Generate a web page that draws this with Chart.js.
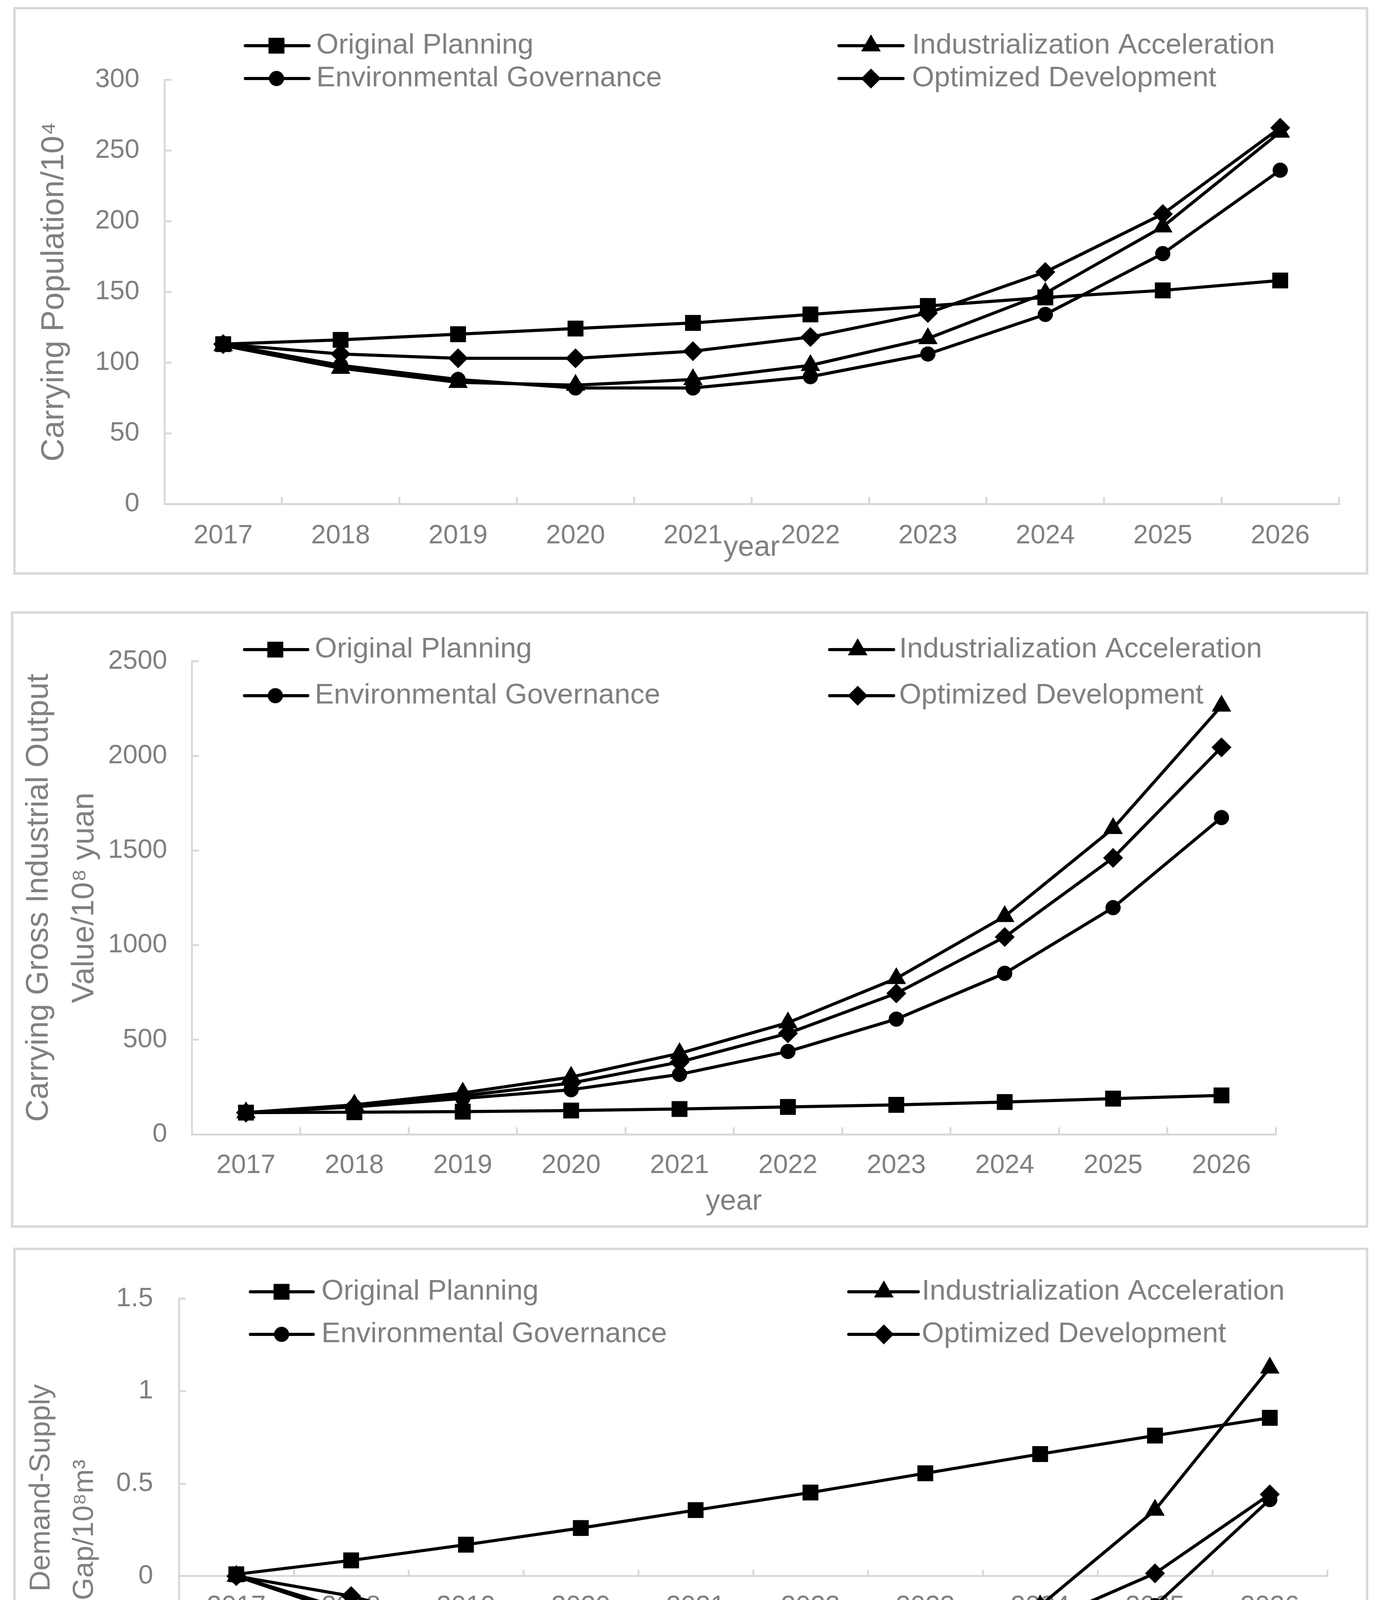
<!DOCTYPE html>
<html>
<head>
<meta charset="utf-8">
<script src="https://cdn.jsdelivr.net/npm/chart.js@4.4.1/dist/chart.umd.min.js"></script>
<style>
  html, body { margin: 0; padding: 0; background: #fff; }
  body { width: 3528px; height: 4666px; position: relative; overflow: hidden; }
  .panel { position: absolute; box-sizing: border-box; border: 6px solid #d9d9d9; background: #fff; }
  canvas { position: absolute; }
</style>
</head>
<body>
<div class="panel" style="left:34px;top:18px;width:3469px;height:1453px"></div>
<div class="panel" style="left:28px;top:1565px;width:3475px;height:1578px"></div>
<div class="panel" style="left:34px;top:3194px;width:3469px;height:1445px"></div>
<canvas id="popChart" width="3457" height="1441" style="left:40px;top:24px"></canvas>
<canvas id="gdpChart" width="3463" height="1566" style="left:34px;top:1571px"></canvas>
<canvas id="waterChart" width="3457" height="1433" style="left:40px;top:3200px"></canvas>
<script>
// shared categories and series names
const years = ['2017', '2018', '2019', '2020', '2021', '2022', '2023', '2024', '2025', '2026'];
const seriesNames = ['Original Planning', 'Industrialization Acceleration', 'Environmental Governance', 'Optimized Development'];

// carrying population (10^4)
const popOriginal = [113, 116, 120, 124, 128, 134, 140, 146, 151, 158];
const popIndustrial = [112, 96, 86, 84, 88, 98, 117, 149, 196, 263];
const popEnvironment = [113, 98, 88, 82, 82, 90, 106, 134, 177, 236];
const popOptimized = [113, 106, 103, 103, 108, 118, 135, 164, 205, 266];
const popTicks = { min: 0, max: 300, step: 50 };

// carrying gross industrial output value (10^8 yuan)
const gdpOriginal = [115, 117, 120, 126, 134, 145, 156, 171, 189, 206];
const gdpIndustrial = [115, 156, 219, 303, 428, 590, 824, 1152, 1617, 2264];
const gdpEnvironment = [115, 145, 190, 236, 317, 438, 609, 851, 1198, 1674];
const gdpOptimized = [115, 150, 204, 271, 382, 534, 745, 1043, 1461, 2045];
const gdpTicks = { min: 0, max: 2500, step: 500 };

// water demand-supply gap (10^8 m3)
const waterOriginal = [0.01, 0.085, 0.17, 0.26, 0.357, 0.452, 0.556, 0.66, 0.76, 0.856];
const waterIndustrial = [0, -0.19, -0.48, -0.64, -0.70, -0.66, -0.49, -0.16, 0.357, 1.126];
const waterEnvironment = [0, -0.21, -0.516, -0.72, -0.83, -0.85, -0.755, -0.535, -0.16, 0.414];
const waterOptimized = [0, -0.108, -0.28, -0.397, -0.456, -0.469, -0.40, -0.256, 0.015, 0.442];
const waterTicks = { min: -1, max: 1.5, step: 0.5 };

const GRAY = '#808080';
const AXIS = '#d9d9d9';
const FONT = '"Liberation Sans", Arial, sans-serif';

const markers = [
  { pointStyle: 'rect', pointRadius: 28 },
  { pointStyle: 'triangle', pointRadius: 28 },
  { pointStyle: 'circle', pointRadius: 19 },
  { pointStyle: 'rectRot', pointRadius: 25 }
];

function buildDatasets(seriesList) {
  return seriesList.map((values, i) => ({
    label: seriesNames[i],
    data: values,
    borderColor: '#000',
    backgroundColor: '#000',
    borderWidth: 8,
    borderJoinStyle: 'round',
    borderCapStyle: 'round',
    pointStyle: markers[i].pointStyle,
    pointRadius: markers[i].pointRadius,
    pointBackgroundColor: '#000',
    pointBorderColor: '#000',
    pointBorderWidth: 1,
    tension: 0,
    clip: false
  }));
}

// legend drawn at the spots Excel put it, over the plot area
const fixedLegend = {
  id: 'fixedLegend',
  afterDraw(chart, args, opts) {
    const ctx = chart.ctx;
    chart.data.datasets.forEach((ds, i) => {
      const y = opts.rows[Math.floor(i / 2)];
      const c = opts.cols[i % 2];
      ctx.save();
      ctx.strokeStyle = '#000';
      ctx.fillStyle = '#000';
      ctx.lineWidth = ds.borderWidth;
      ctx.lineCap = 'round';
      ctx.beginPath();
      ctx.moveTo(c.x1, y);
      ctx.lineTo(c.x2, y);
      ctx.stroke();
      ctx.lineWidth = 1;
      Chart.helpers.drawPoint(ctx, { pointStyle: ds.pointStyle, radius: ds.pointRadius, borderWidth: 1, rotation: 0 }, c.mx, y);
      ctx.font = `73px ${FONT}`;
      ctx.fillStyle = GRAY;
      ctx.textBaseline = 'middle';
      ctx.textAlign = 'left';
      ctx.fillText(ds.label, c.tx, y);
      ctx.restore();
    });
  }
};

function yAxis(ticks, width, title, titleSize, titleLineHeight, titlePad, labelPad) {
  return {
    min: ticks.min,
    max: ticks.max,
    afterFit(scale) { scale.width = width; },
    border: { color: AXIS, width: 5 },
    grid: { drawOnChartArea: false, color: AXIS, lineWidth: 5, tickLength: -18 },
    ticks: {
      stepSize: ticks.step,
      color: GRAY,
      padding: labelPad,
      font: { family: FONT, size: 68 },
      callback(value) { return String(value); }
    },
    title: {
      display: true,
      text: title,
      color: GRAY,
      padding: { top: titlePad, bottom: 0 },
      font: { family: FONT, size: titleSize, lineHeight: titleLineHeight }
    }
  };
}

function xTicks(labelPad) {
  return { color: GRAY, padding: labelPad, maxRotation: 0, autoSkip: false, font: { family: FONT, size: 68, lineHeight: 1.2 } };
}

function xTitle(pad) {
  return { display: true, text: 'year', color: GRAY, padding: { top: 0, bottom: pad }, font: { family: FONT, size: 74, lineHeight: 1.2 } };
}

function makeChart(id, datasets, opts) {
  return new Chart(document.getElementById(id).getContext('2d'), {
    type: 'line',
    data: { labels: years, datasets },
    options: {
      responsive: false,
      animation: false,
      devicePixelRatio: 1,
      layout: { padding: opts.padding },
      plugins: {
        legend: { display: false },
        tooltip: { enabled: false },
        fixedLegend: opts.legend
      },
      scales: opts.scales
    },
    plugins: [fixedLegend]
  });
}

makeChart('popChart', buildDatasets([popOriginal, popIndustrial, popEnvironment, popOptimized]), {
  padding: { top: 180, right: 69, bottom: 0, left: 0 },
  legend: {
    rows: [93, 177],
    cols: [{ x1: 588, x2: 751, mx: 668, tx: 770 }, { x1: 2108, x2: 2272, mx: 2190, tx: 2295 }]
  },
  scales: {
    x: {
      offset: true,
      afterFit(scale) { scale.height = 175; },
      border: { color: AXIS, width: 5 },
      grid: { offset: true, drawOnChartArea: false, color: AXIS, lineWidth: 5, tickLength: -18 },
      ticks: xTicks(59),
      title: xTitle(18)
    },
    y: yAxis(popTicks, 381, 'Carrying Population/10⁴', 82, 1.2, 50, 82)
  }
});

makeChart('gdpChart', buildDatasets([gdpOriginal, gdpIndustrial, gdpEnvironment, gdpOptimized]), {
  padding: { top: 95, right: 231, bottom: 0, left: 0 },
  legend: {
    rows: [92, 210],
    cols: [{ x1: 592, x2: 754, mx: 671, tx: 772 }, { x1: 2090, x2: 2254, mx: 2162, tx: 2268 }]
  },
  scales: {
    x: {
      offset: true,
      afterFit(scale) { scale.height = 233; },
      border: { color: AXIS, width: 5 },
      grid: { offset: true, drawOnChartArea: false, color: AXIS, lineWidth: 5, tickLength: -18 },
      ticks: xTicks(57),
      title: xTitle(16)
    },
    y: yAxis(gdpTicks, 457, ['Carrying Gross Industrial Output', 'Value/10⁸ yuan'], 80, 1.46, 8, 81)
  }
});

makeChart('waterChart', buildDatasets([waterOriginal, waterIndustrial, waterEnvironment, waterOptimized]), {
  padding: { top: 69, right: 99, bottom: 0, left: 0 },
  legend: {
    rows: [107, 216],
    cols: [{ x1: 601, x2: 762, mx: 681, tx: 783 }, { x1: 2133, x2: 2311, mx: 2223, tx: 2320 }]
  },
  scales: {
    x: {
      offset: true,
      position: { y: 0 },
      border: { color: AXIS, width: 5 },
      grid: { offset: true, drawOnChartArea: false, color: AXIS, lineWidth: 5, tickLength: -18 },
      ticks: xTicks(56)
    },
    x2: {
      type: 'category',
      labels: years,
      position: 'bottom',
      offset: true,
      afterFit(scale) { scale.height = 119; },
      border: { display: false },
      grid: { display: false },
      ticks: { display: false },
      title: xTitle(18)
    },
    y: yAxis(waterTicks, 418, ['Water Demand-Supply', 'Gap/10⁸m³'], 74, 1.5, 11, 84)
  }
});
</script>
</body>
</html>
